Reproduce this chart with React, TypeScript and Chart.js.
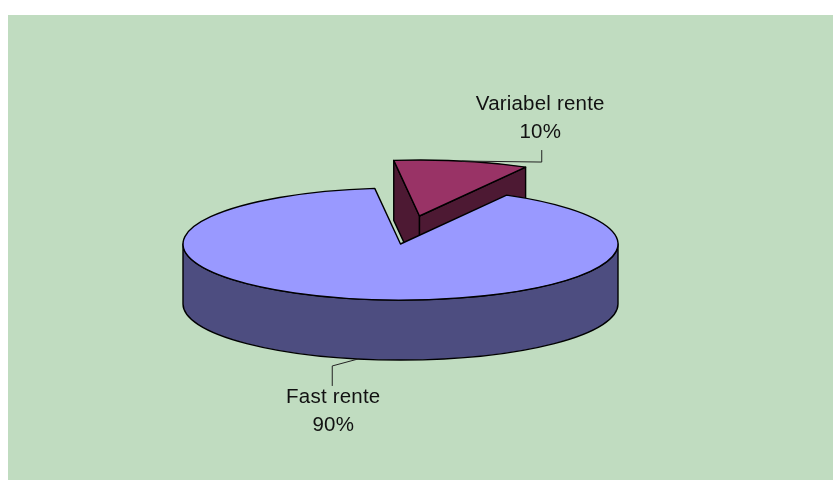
import React, { useEffect, useRef } from "react";
import { Chart, registerables } from "chart.js";

Chart.register(...registerables);

const categories = ["Variabel rente", "Fast rente"];
const shares = [10, 90];
const topColors = ["#993366", "#9999FF"];
const wallColors = ["#4D1933", "#4D4D80"];
const BG = "#C0DCC0";
const TILT = 0.2575;
const DEPTH = 60;
const EXPLODE_X = [19, 0];
const EXPLODE_Y = [-28, 0];
const FONT = "20.5px 'Liberation Sans', Arial, sans-serif";
const TEXT_COLOR = "#111";
const LINE_GAP = 28;
// label leader: elbow and label centre, relative to the slice's rim mid-point
const ELBOW_X = [80, -26];
const ELBOW_Y = [1, 7];
const END_Y = [-12, 20];
const LABEL_DX = [-1.5, 1];
const LABEL_Y = [-57, 38];

const pie3d = {
  id: "pie3d",
  beforeDatasetsDraw(chart: any) {
    const ctx: CanvasRenderingContext2D = chart.ctx;
    const arcs = chart.getDatasetMeta(0).data;
    ctx.save();
    arcs.forEach((arc: any, i: number) => {
      const { x, y, outerRadius: r, startAngle: s, endAngle: e } = arc;
      const cx = x + EXPLODE_X[i];
      const cy = y + EXPLODE_Y[i];
      const ry = r * TILT;
      const pt = (a: number) => [cx + r * Math.cos(a), cy + ry * Math.sin(a)];
      ctx.lineWidth = 1.4;
      ctx.strokeStyle = "#000";
      ctx.lineJoin = "round";
      ctx.fillStyle = wallColors[i];
      // cut faces that look towards the viewer
      const cut = (a: number) => {
        const [px, py] = pt(a);
        ctx.beginPath();
        ctx.moveTo(cx, cy);
        ctx.lineTo(px, py);
        ctx.lineTo(px, py + DEPTH);
        ctx.lineTo(cx, cy + DEPTH);
        ctx.closePath();
        ctx.fill();
        ctx.stroke();
      };
      if (Math.cos(s) < 0) cut(s);
      if (Math.cos(e) > 0) cut(e);
      // rim, front half only
      const a0 = Math.max(s, 0);
      const a1 = Math.min(e, Math.PI);
      if (a1 > a0) {
        ctx.beginPath();
        ctx.ellipse(cx, cy, r, ry, 0, a0, a1);
        ctx.ellipse(cx, cy + DEPTH, r, ry, 0, a1, a0, true);
        ctx.closePath();
        ctx.fill();
        ctx.stroke();
      }
      // top face, drawn by the arc element itself
      ctx.save();
      ctx.translate(cx, cy);
      ctx.scale(1, TILT);
      ctx.translate(-x, -y);
      arc.draw(ctx);
      ctx.restore();
      ctx.beginPath();
      ctx.moveTo(cx, cy);
      ctx.ellipse(cx, cy, r, ry, 0, s, e);
      ctx.closePath();
      ctx.stroke();
    });
    // leaders and labels
    ctx.font = FONT;
    (ctx as any).letterSpacing = "0.2px";
    ctx.textAlign = "center";
    ctx.textBaseline = "middle";
    arcs.forEach((arc: any, i: number) => {
      const { x, y, outerRadius: r, startAngle: s, endAngle: e } = arc;
      const mid = (s + e) / 2;
      const sx = x + EXPLODE_X[i] + r * Math.cos(mid);
      const sy = y + EXPLODE_Y[i] + r * TILT * Math.sin(mid) + (Math.sin(mid) > 0 ? DEPTH : 0);
      const ex = sx + ELBOW_X[i];
      const ey = sy + ELBOW_Y[i];
      ctx.lineWidth = 1;
      ctx.strokeStyle = "#222";
      ctx.beginPath();
      ctx.moveTo(sx, sy);
      ctx.lineTo(ex, ey);
      ctx.lineTo(ex, ey + END_Y[i]);
      ctx.stroke();
      const ly = sy + LABEL_Y[i];
      const lx = ex + LABEL_DX[i];
      const pct = Math.round((shares[i] / shares.reduce((p, c) => p + c, 0)) * 100) + "%";
      ctx.fillStyle = TEXT_COLOR;
      ctx.fillText(categories[i], lx, ly);
      ctx.fillText(pct, lx, ly + LINE_GAP);
    });
    ctx.restore();
    return false;
  },
};

export default function App() {
  const ref = useRef<HTMLCanvasElement>(null);
  useEffect(() => {
    const chart = new Chart(ref.current!, {
      type: "pie",
      data: {
        labels: categories,
        datasets: [{ data: shares, backgroundColor: topColors, borderWidth: 0 }],
      },
      options: {
        animation: false,
        responsive: false,
        rotation: -6.8,
        radius: 217.5,
        layout: { padding: { right: 40, bottom: 7 } },
        plugins: { legend: { display: false }, tooltip: { enabled: false } },
      },
      plugins: [pie3d],
    } as any);
    return () => chart.destroy();
  }, []);
  return (
    <div style={{ position: "absolute", left: 8, top: 15, width: 825, height: 465, background: BG, overflow: "hidden" }}>
      <canvas ref={ref} width={825} height={465} style={{ display: "block" }} />
    </div>
  );
}
